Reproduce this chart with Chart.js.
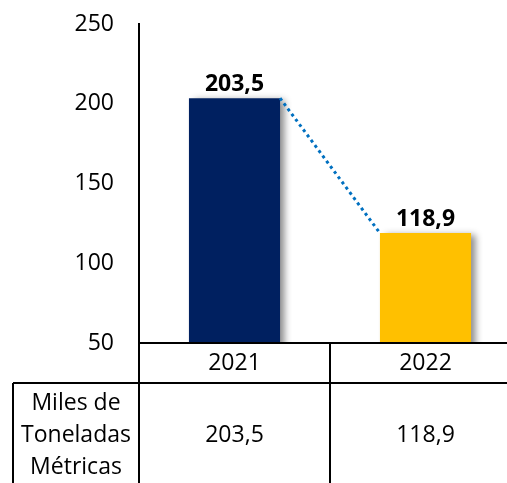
<!DOCTYPE html>
<html>
<head>
<meta charset="utf-8">
<script src="https://cdn.jsdelivr.net/npm/chart.js@4/dist/chart.umd.min.js"></script>
<style>
  html, body { margin: 0; padding: 0; background: #fff; overflow: hidden; width: 507px; height: 483px; }
  #chart { display: block; }
</style>
</head>
<body>
<canvas id="chart" width="521" height="483"></canvas>
<script>
var years = ["2021", "2022"];
var values = [203.5, 118.9];
var barColors = ["#002060", "#FFC000"];
var rowLabel = ["Miles de", "Toneladas", "Métricas"];

var font = "'Open Sans', sans-serif";

function fmt(v) {
    return v.toFixed(1).replace(".", ",");
}

// shadow behind the bars
var shadowPlugin = {
    id: "shadow",
    beforeDatasetsDraw: function(chart) {
        var ctx = chart.ctx;
        ctx.save();
        ctx.shadowColor = "rgba(0,0,0,0.45)";
        ctx.shadowBlur = 7;
        ctx.shadowOffsetX = 5;
        ctx.shadowOffsetY = 2;
    },
    afterDatasetsDraw: function(chart) {
        chart.ctx.restore();
    }
};

var extras = {
    id: "extras",
    afterDraw: function(chart) {
        var ctx = chart.ctx;
        var area = chart.chartArea;
        var bars = chart.getDatasetMeta(0).data;
        var xs = chart.scales.x;
        var cat = area.width / years.length;

        // series line between bar tops
        ctx.save();
        ctx.strokeStyle = "#0070C0";
        ctx.lineWidth = 3;
        ctx.setLineDash([3, 3.5]);
        for (var i = 0; i < bars.length - 1; i++) {
            ctx.beginPath();
            ctx.moveTo(bars[i].x + bars[i].width / 2, bars[i].y);
            ctx.lineTo(bars[i + 1].x - bars[i + 1].width / 2, bars[i + 1].y);
            ctx.stroke();
        }
        ctx.restore();

        // data labels
        ctx.save();
        ctx.fillStyle = "#000";
        ctx.font = "bold 23px " + font;
        ctx.textAlign = "center";
        ctx.textBaseline = "alphabetic";
        for (var j = 0; j < bars.length; j++) {
            ctx.fillText(fmt(values[j]), bars[j].x, bars[j].y - 7);
        }
        ctx.restore();

        // data table
        var top = area.bottom;
        var mid = top + 40;
        var rowH = 32;
        var left = 13;
        ctx.save();
        ctx.strokeStyle = "#000";
        ctx.lineWidth = 2;
        ctx.beginPath();
        ctx.moveTo(area.left, top); ctx.lineTo(area.right, top);
        ctx.moveTo(left, mid); ctx.lineTo(area.right, mid);
        ctx.moveTo(left, mid); ctx.lineTo(left, chart.height);
        ctx.moveTo(area.left, top); ctx.lineTo(area.left, chart.height);
        for (var k = 0; k < years.length; k++) {
            var xr = xs.getPixelForValue(k) + cat / 2;
            ctx.moveTo(xr, top); ctx.lineTo(xr, chart.height);
        }
        ctx.stroke();

        ctx.fillStyle = "#000";
        ctx.font = "23px " + font;
        ctx.textAlign = "center";
        ctx.textBaseline = "middle";
        for (var m = 0; m < years.length; m++) {
            var cx = xs.getPixelForValue(m);
            ctx.fillText(years[m], cx, top + 20);
            ctx.fillText(fmt(values[m]), cx, mid + 20 + rowH);
        }
        for (var n = 0; n < rowLabel.length; n++) {
            ctx.fillText(rowLabel[n], (left + area.left) / 2, mid + 20 + rowH * n);
        }
        ctx.restore();
    }
};

var ctx1 = document.getElementById("chart");
var chart1 = new Chart(ctx1, {
    type: "bar",
    data: {
        labels: years,
        datasets: [{
            data: values,
            backgroundColor: barColors,
            borderWidth: 0,
            categoryPercentage: 1,
            barPercentage: 0.477
        }]
    },
    options: {
        responsive: false,
        animation: false,
        layout: { padding: { top: 24, bottom: 140, left: 0, right: 0 } },
        plugins: {
            legend: { display: false },
            title: { display: false },
            tooltip: { enabled: false }
        },
        scales: {
            x: { display: false },
            y: {
                min: 50,
                max: 250,
                afterFit: function(scale) {
                    scale.width = 139;
                    scale.paddingTop = 0;
                    scale.paddingBottom = 0;
                },
                grid: { display: false, drawTicks: false },
                border: { display: true, color: "#000", width: 2 },
                ticks: {
                    stepSize: 50,
                    padding: 25,
                    color: "#000",
                    font: { family: font, size: 23 }
                }
            }
        }
    },
    plugins: [shadowPlugin, extras]
});
</script>
</body>
</html>
